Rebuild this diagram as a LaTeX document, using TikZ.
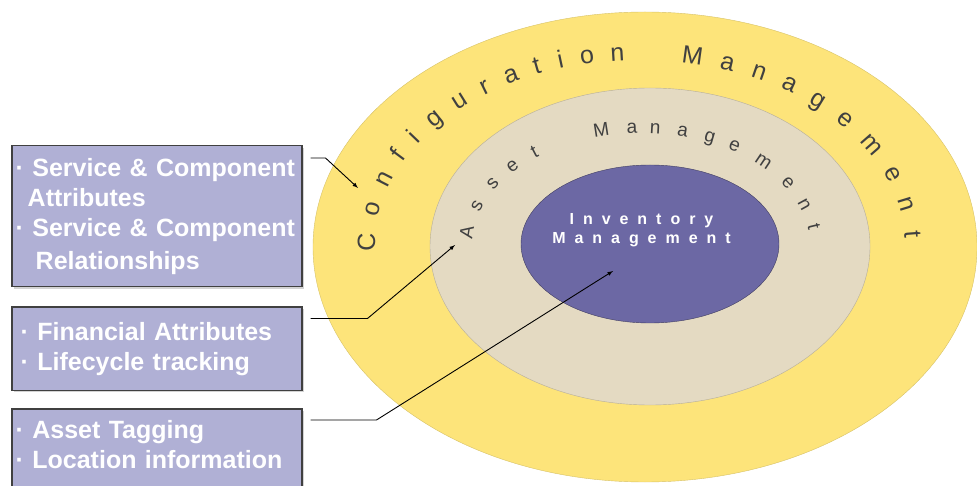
\documentclass[tikz,border=0pt]{standalone}
\usepackage{fontspec}
\setmainfont{Liberation Sans}
\usetikzlibrary{shapes.geometric, arrows, positioning, shadows}
\definecolor{cfg_yellow}{RGB}{253,228,122}
\definecolor{asset_beige}{RGB}{228,218,194}
\definecolor{inv_purple}{RGB}{108,104,164}
\definecolor{box_lilac}{RGB}{176,176,213}
\colorlet{ringtext}{black!75}
\tikzset{
  ring/.style={ellipse,inner sep=0pt},
  infobox/.style={rectangle,draw=black!75,line width=1.5pt,fill=box_lilac,text=white,font=\fontsize{25}{30}\selectfont\bfseries,text width=282pt,inner sep=4pt,align=left,drop shadow={opacity=.35,shadow xshift=2pt,shadow yshift=-2pt}},
  pointer/.style={line width=.9pt,-latex,black},
  cfgletter/.style={anchor=base,inner sep=0pt,text=ringtext,font=\fontsize{25}{25}\selectfont},
  assetletter/.style={cfgletter,font=\fontsize{19}{19}\selectfont},
}

\begin{document}
\begin{tikzpicture}[x=1pt,y=1pt]
	    \useasboundingbox (0,0) rectangle (977,485);
	    \node[ring,fill=cfg_yellow,draw=cfg_yellow!85!black,minimum width=664pt,minimum height=470pt] (cfgring) at (645,238) {};
	    \node[ring,fill=asset_beige,draw=asset_beige!80!black,minimum width=440pt,minimum height=317pt] (assetring) at (650,238.5) {};
	    \node[ring,fill=inv_purple,draw=inv_purple!60!black,minimum width=258pt,minimum height=158pt] (invcore) at (650,241) {};
	    % ring labels, one letter at a time
	    \foreach \a/\c [count=\i] in {179.1/C,169.3/o,160.3/n,152.6/f,146.2/i,139.25/g,131.7/u,125/r,118.5/a,112.4/t,107.1/i,101.3/o,94.8/n,78.8/M,71.1/a,63.8/n,56.4/a,48.7/g,40.65/e,31.3/m,21.4/e,12/n,3.1/t}
	        \node[cfgletter,rotate={atan2(-185*cos(\a),265*sin(\a))}] (cm\i) at ({640+265*cos(\a)},{240+185*sin(\a)}) {\c};
	    \foreach \a/\c [count=\i] in {173.7/A,160.6/s,148.7/s,137.9/e,127.9/t,103.3/M,93/a,85.3/n,76/a,66.5/g,57.2/e,45/m,32/e,20.2/n,9.1/t}
	        \node[assetletter,rotate={atan2(-113*cos(\a),169*sin(\a))}] (am\i) at ({641+169*cos(\a)},{239+113*sin(\a)}) {\c};
	    \node[text=white,font=\fontsize{16}{19}\selectfont\bfseries\addfontfeature{LetterSpace=56},align=center] (invtext) at (641.5,254.5) {Inventory\\Management};
	    % the three boxes
	    \node[infobox,minimum height=141pt,anchor=north west] (attrbox) at (11,340) {· Service \& Component\\\hspace*{12pt}Attributes\\· Service \& Component\\[3pt]\hspace*{20pt}Relationships};
	    \node[infobox,minimum height=83pt,below=19pt of attrbox] (finbox) {\hspace*{5pt}· Financial Attributes\\\hspace*{5pt}· Lifecycle tracking};
	    \node[infobox,minimum height=92pt,text depth=51pt,below=17pt of finbox] (tagbox) {· Asset Tagging\\· Location information};
	    \coordinate (cfgtip) at (358,297);
	    \coordinate (assettip) at (455,240);
	    \coordinate (invtip) at (613,214);
	    \draw[pointer] ([xshift=8pt,yshift=-13pt]attrbox.north east) -- ++(15,0) -- (cfgtip);
	    \draw[pointer] ([xshift=8pt,yshift=-12pt]finbox.north east) -- ++(57,0) -- (assettip);
	    \draw[pointer] ([xshift=8pt,yshift=-12pt]tagbox.north east) -- ++(66,0) -- (invtip);
	\end{tikzpicture}
\end{document}
